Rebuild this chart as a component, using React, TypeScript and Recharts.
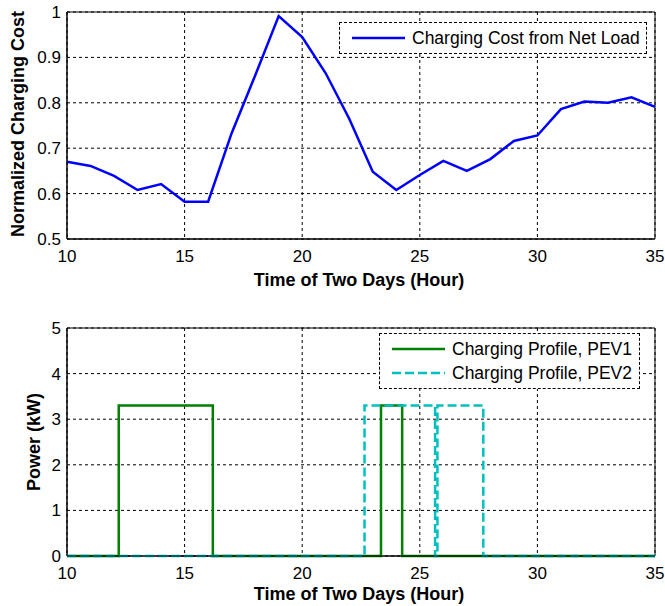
import React from "react";
import {
  LineChart, Line, XAxis, YAxis, CartesianGrid, ReferenceArea,
} from "recharts";

// top panel: normalized charging cost, hourly
const hours = [10, 11, 12, 13, 14, 15, 16, 17, 18, 19, 20, 21, 22, 23, 24, 25, 26, 27, 28, 29, 30, 31, 32, 33, 34, 35];
const cost = [0.67, 0.661, 0.639, 0.608, 0.621, 0.582, 0.582, 0.733, 0.86, 0.991, 0.945, 0.865, 0.765, 0.648, 0.608, 0.641, 0.672, 0.65, 0.676, 0.716, 0.728, 0.786, 0.803, 0.8, 0.812, 0.791];

// bottom panel: charging profiles (value holds until next time)
const pev1Times = [10, 12.2, 16.2, 23.35, 24.25, 35];
const pev1Power = [0, 3.3, 0, 3.3, 0, 0];
const pev2Times = [10, 22.65, 25.65, 25.75, 27.7, 35];
const pev2Power = [0, 3.3, 0, 3.3, 0, 0];

const xTicks = [10, 15, 20, 25, 30, 35];
const costTicks = [0.5, 0.6, 0.7, 0.8, 0.9, 1];
const powerTicks = [0, 1, 2, 3, 4, 5];

const FONT = "'Liberation Sans', Arial, Helvetica, sans-serif";
const tickStyle = { fill: "#000", fontSize: 17, fontFamily: FONT };

const costData = hours.map((h, i) => ({ x: h, y: cost[i] }));
const pev1Data = pev1Times.map((t, i) => ({ x: t, y: pev1Power[i] }));
const pev2Data = pev2Times.map((t, i) => ({ x: t, y: pev2Power[i] }));

function AxisTitle({ text, x, y, rotate }: { text: string; x: number; y: number; rotate?: boolean }) {
  return (
    <div
      style={{
        position: "absolute", left: x, top: y, whiteSpace: "nowrap",
        transform: `translate(-50%, -50%)${rotate ? " rotate(-90deg)" : ""}`,
        fontFamily: FONT, fontWeight: 700, fontSize: 18, color: "#000", lineHeight: 1,
      }}
    >
      {text}
    </div>
  );
}

function LegendBox({ left, top, width, items }: {
  left: number; top: number; width: number;
  items: { label: string; color: string; dash?: string }[];
}) {
  return (
    <div
      style={{
        position: "absolute", left, top, width, boxSizing: "border-box",
        border: "1px dashed #000", background: "#fff", padding: "3px 0 3px 12px",
        fontFamily: FONT, fontSize: 17.5, color: "#000",
      }}
    >
      {items.map((it) => (
        <div key={it.label} style={{ display: "flex", alignItems: "center", height: 24 }}>
          <svg width={53} height={6} style={{ marginRight: 7 }}>
            <line x1={0} y1={3} x2={53} y2={3} stroke={it.color} strokeWidth={2.5} strokeDasharray={it.dash} />
          </svg>
          <span>{it.label}</span>
        </div>
      ))}
    </div>
  );
}

export default function App() {
  return (
    <div style={{ position: "absolute", left: 0, top: 0, width: 665, height: 606, background: "#fff" }}>
      {/* oberes Diagramm */}
      <div style={{ position: "absolute", left: 0, top: 0 }}>
        <LineChart width={665} height={300} data={costData} margin={{ top: 12, right: 10, bottom: 21, left: 7 }}>
          <CartesianGrid stroke="#000" strokeDasharray="3 3" />
          <XAxis type="number" dataKey="x" domain={[10, 35]} ticks={xTicks} height={40}
            axisLine={{ stroke: "#000" }} tickLine={false} tickSize={6} tickMargin={5} tick={tickStyle} />
          <YAxis type="number" domain={[0.5, 1]} ticks={costTicks} width={60}
            axisLine={{ stroke: "#000" }} tickLine={false} tickSize={4} tickMargin={2} tick={tickStyle}
            tickFormatter={(v) => String(v)} />
          <ReferenceArea x1={10} x2={35} y1={0.5} y2={1} fill="none" stroke="#000" strokeOpacity={1} />
          <Line type="linear" dataKey="y" stroke="#0000ff" strokeWidth={2.5} dot={false} isAnimationActive={false} />
        </LineChart>
      </div>

      {/* unteres Diagramm */}
      <div style={{ position: "absolute", left: 0, top: 300 }}>
        <LineChart width={665} height={306} margin={{ top: 28, right: 10, bottom: 10, left: 7 }}>
          <CartesianGrid stroke="#000" strokeDasharray="3 3" />
          <XAxis type="number" dataKey="x" domain={[10, 35]} ticks={xTicks} height={40}
            axisLine={{ stroke: "#000" }} tickLine={false} tickSize={6} tickMargin={5} tick={tickStyle} />
          <YAxis type="number" domain={[0, 5]} ticks={powerTicks} width={60}
            axisLine={{ stroke: "#000" }} tickLine={false} tickSize={4} tickMargin={2} tick={tickStyle} />
          <ReferenceArea x1={10} x2={35} y1={0} y2={5} fill="none" stroke="#000" strokeOpacity={1} />
          <Line data={pev1Data} type="stepAfter" dataKey="y" stroke="#008000" strokeWidth={2.5}
            dot={false} isAnimationActive={false} />
          <Line data={pev2Data} type="stepAfter" dataKey="y" stroke="#00bfbf" strokeWidth={2.5}
            strokeDasharray="9 4" dot={false} isAnimationActive={false} />
        </LineChart>
      </div>

      <AxisTitle text="Time of Two Days (Hour)" x={359} y={280} />
      <AxisTitle text="Time of Two Days (Hour)" x={359} y={594} />
      <AxisTitle text="Normalized Charging Cost" x={18} y={124} rotate />
      <AxisTitle text="Power (kW)" x={34} y={442} rotate />

      <LegendBox left={339} top={22} width={308}
        items={[{ label: "Charging Cost from Net Load", color: "#0000ff" }]} />
      <LegendBox left={379} top={333} width={261}
        items={[
          { label: "Charging Profile, PEV1", color: "#008000" },
          { label: "Charging Profile, PEV2", color: "#00bfbf", dash: "9 4" },
        ]} />
    </div>
  );
}
